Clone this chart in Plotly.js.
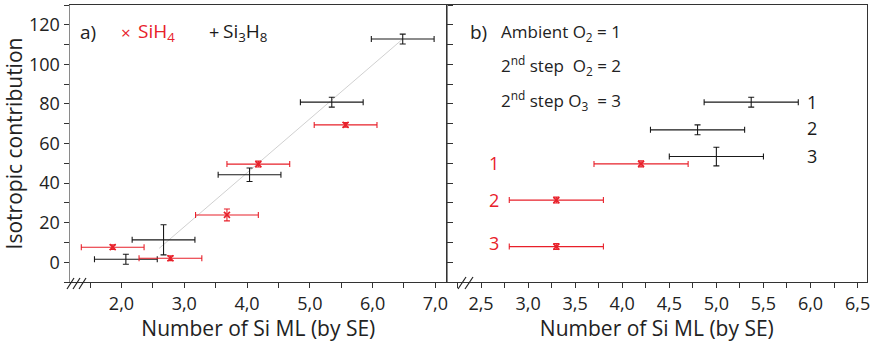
<!DOCTYPE html>
<html><head><meta charset="utf-8">
<script src="https://cdn.plot.ly/plotly-3.0.1.min.js"></script>
<style>html,body{margin:0;padding:0;background:#fff}</style>
</head><body>
<div id="chart" style="width:876px;height:342px"></div>
<script>
// Panel a) data
const aSiH4X   = [1.86, 2.78, 3.68, 4.18, 5.57];
const aSiH4Y   = [7.6, 2.0, 23.9, 49.6, 69.4];
const aSiH4Ex  = [0.5, 0.5, 0.5, 0.5, 0.5];
const aSiH4Ey  = [1.2, 1.2, 3.0, 1.5, 1.2];
const aSi3H8X  = [2.07, 2.67, 4.04, 5.35, 6.48];
const aSi3H8Y  = [1.5, 11.3, 44.2, 80.9, 112.8];
const aSi3H8Ex = [0.5, 0.5, 0.5, 0.5, 0.5];
const aSi3H8Ey = [2.5, 7.6, 3.4, 2.5, 2.5];
const fitX = [2.60, 6.48];
const fitY = [7.0, 112.8];
// Panel b) data
const bSiH4X   = [4.20, 3.30, 3.30];
const bSiH4Y   = [49.7, 31.4, 7.9];
const bSiH4Ex  = [0.5, 0.5, 0.5];
const bSiH4Ey  = [1.5, 1.5, 1.5];
const bSi3H8X  = [5.37, 4.80, 5.00];
const bSi3H8Y  = [80.9, 66.9, 53.4];
const bSi3H8Ex = [0.5, 0.5, 0.5];
const bSi3H8Ey = [2.5, 2.5, 4.7];
const stepLabels = ['1', '2', '3'];
// ticks
const aXTickVals = [1.5,2,2.5,3,3.5,4,4.5,5,5.5,6,6.5,7];
const aXTickText = ['','2,0','','3,0','','4,0','','5,0','','6,0','','7,0'];
const bXTickVals = [2.5,3,3.5,4,4.5,5,5.5,6,6.5];
const bXTickText = ['2,5','3,0','3,5','4,0','4,5','5,0','5,5','6,0','6,5'];
const yTickVals = [0,20,40,60,80,100,120];

const RED = '#e8202a', BLACK = '#1a1a1a', GRAY = '#8a8a8a';
const FONT = 'Open Sans, Noto Sans, sans-serif';

function errTrace(x, y, ex, ey, color, xa, ya, sym) {
  return {
    x: x, y: y, xaxis: xa, yaxis: ya, type: 'scatter', mode: 'markers',
    marker: sym ? {symbol: 'x-thin-open', size: 6, line: {color: color, width: 1.6}, color: color}
                : {size: 1, color: 'rgba(0,0,0,0)'},
    error_x: {type: 'data', array: ex, visible: true, color: color, thickness: 1.1, width: 3},
    error_y: {type: 'data', array: ey, visible: true, color: color, thickness: 1.1, width: 3},
    showlegend: false, hoverinfo: 'skip'
  };
}

const traces = [
  {x: fitX, y: fitY, xaxis: 'x', yaxis: 'y', type: 'scatter', mode: 'lines',
   line: {color: '#c4c4c4', width: 0.8}, showlegend: false, hoverinfo: 'skip'},
  errTrace(aSi3H8X, aSi3H8Y, aSi3H8Ex, aSi3H8Ey, BLACK, 'x', 'y', false),
  errTrace(aSiH4X, aSiH4Y, aSiH4Ex, aSiH4Ey, RED, 'x', 'y', true),
  errTrace(bSi3H8X, bSi3H8Y, bSi3H8Ex, bSi3H8Ey, BLACK, 'x2', 'y2', false),
  errTrace(bSiH4X, bSiH4Y, bSiH4Ex, bSiH4Ey, RED, 'x2', 'y2', true)
];

const tickFont = {family: FONT, size: 18, color: '#222'};
const titleFont = {family: FONT, size: 21, color: '#222'};

const ann = [];
function txt(text, x, y, xref, yref, color, size, xanchor) {
  ann.push({text: text, x: x, y: y, xref: xref, yref: yref, showarrow: false,
    xanchor: xanchor || 'left', yanchor: 'middle',
    font: {family: FONT, size: size || 17, color: color || '#222'}});
}
// panel a legend
txt('a)', 0.021, 0.9025, 'x domain', 'y domain', '#222', 19);
txt('×', 0.149, 0.9025, 'x domain', 'y domain', RED, 17, 'center');
txt('SiH<sub>4</sub>', 0.176, 0.9025, 'x domain', 'y domain', RED, 19);
txt('+', 0.382, 0.9025, 'x domain', 'y domain', BLACK, 18, 'center');
txt('Si<sub>3</sub>H<sub>8</sub>', 0.402, 0.9025, 'x domain', 'y domain', BLACK, 19);
// panel b legend
txt('b)', 0.05, 0.9025, 'x2 domain', 'y2 domain', '#222', 19);
txt('Ambient O<sub>2</sub> = 1', 0.125, 0.9025, 'x2 domain', 'y2 domain', '#222', 17);
txt('2<sup>nd</sup> step  O<sub>2</sub> = 2', 0.125, 0.78, 'x2 domain', 'y2 domain', '#222', 17);
txt('2<sup>nd</sup> step O<sub>3</sub>  = 3', 0.125, 0.657, 'x2 domain', 'y2 domain', '#222', 17);
// step number labels
const blackLabY = [0.651, 0.556, 0.456];
const redLabY = [0.4296, 0.296, 0.141];
stepLabels.forEach((s, i) => {
  txt(s, 0.869, blackLabY[i], 'x2 domain', 'y2 domain', BLACK, 18, 'center');
  txt(s, 0.1125, redLabY[i], 'x2 domain', 'y2 domain', RED, 18, 'center');
});

// axis break marks (paper coords; plot area: x 70..867 px, y 5..282 px)
const shapes = [];
function px2x(p) { return (p - 70) / 797; }
function px2y(p) { return (282 - p) / 277; }
[67, 73, 79].forEach(p => shapes.push({type: 'line', xref: 'paper', yref: 'paper',
  x0: px2x(p), y0: px2y(289), x1: px2x(p + 7), y1: px2y(278), line: {color: '#222', width: 1.2}}));
[458, 465].forEach(p => shapes.push({type: 'line', xref: 'paper', yref: 'paper',
  x0: px2x(p), y0: px2y(289), x1: px2x(p + 8), y1: px2y(277), line: {color: '#222', width: 1.2}}));

const layout = {
  width: 876, height: 342,
  margin: {l: 70, r: 9, t: 5, b: 60},
  paper_bgcolor: '#fff', plot_bgcolor: '#fff',
  showlegend: false,
  xaxis: {domain: [0, 0.4726], range: [1.18, 7.18], tickvals: aXTickVals, ticktext: aXTickText,
    ticks: 'outside', ticklen: 5, tickcolor: '#333', showline: true, linecolor: '#333', linewidth: 1,
    mirror: true, showgrid: false, zeroline: false, tickfont: tickFont,
    title: {text: 'Number of Si ML (by SE)', font: titleFont, standoff: 2}, anchor: 'y'},
  yaxis: {domain: [0, 1], range: [-10, 130], tickvals: yTickVals,
    minor: {dtick: 10, ticks: 'outside', ticklen: 5, tickcolor: '#333'},
    ticks: 'outside', ticklen: 5, tickcolor: '#333', showline: true, linecolor: GRAY, linewidth: 1.5,
    mirror: 'ticks', showgrid: false, zeroline: false, tickfont: tickFont,
    title: {text: 'Isotropic contribution', font: titleFont, standoff: 6}, anchor: 'x'},
  xaxis2: {domain: [0.4726, 1], range: [2.135, 6.6], tickvals: bXTickVals, ticktext: bXTickText,
    minor: {dtick: 0.25, tick0: 2.5, ticks: 'outside', ticklen: 5, tickcolor: '#333'},
    ticks: 'outside', ticklen: 5, tickcolor: '#333', showline: true, linecolor: '#333', linewidth: 1,
    mirror: true, showgrid: false, zeroline: false, tickfont: tickFont,
    title: {text: 'Number of Si ML (by SE)', font: titleFont, standoff: 2}, anchor: 'y2'},
  yaxis2: {domain: [0, 1], range: [-10, 130], tickvals: yTickVals, showticklabels: false,
    minor: {dtick: 10, ticks: 'inside', ticklen: 5, tickcolor: '#333'},
    ticks: 'inside', ticklen: 5, tickcolor: '#333', showline: true, linecolor: '#333', linewidth: 1,
    mirror: true, showgrid: false, zeroline: false, anchor: 'x2'},
  annotations: ann,
  shapes: shapes
};

Plotly.newPlot('chart', traces, layout, {displayModeBar: false, staticPlot: true});
</script>
</body></html>
